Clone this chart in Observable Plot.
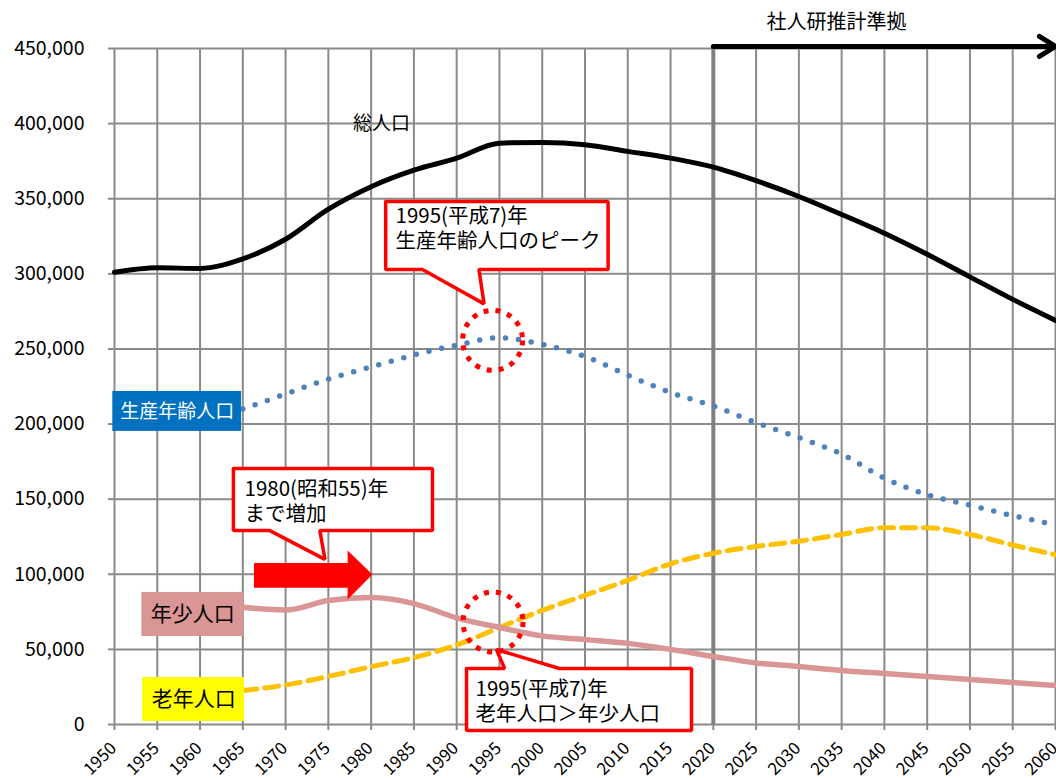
<!DOCTYPE html>
<html><head><meta charset="utf-8">
<script src="https://cdn.jsdelivr.net/npm/d3@7"></script>
<script src="https://cdn.jsdelivr.net/npm/@observablehq/plot@0.6"></script>
<style>body{margin:0;background:#fff}</style>
</head><body><div id="chart"></div>
<script>
// ---- data ----
const years = [1950,1955,1960,1965,1970,1975,1980,1985,1990,1995,2000,2005,2010,2015,2020,2025,2030,2035,2040,2045,2050,2055,2060];
const total = [301000,304000,303600,310000,323000,343000,358000,369000,377000,387000,387500,386000,381500,377000,371000,362000,351500,339500,327000,313000,298000,283000,269000];
const subYears = [1965,1970,1975,1980,1985,1990,1995,2000,2005,2010,2015,2020,2025,2030,2035,2040,2045,2050,2055,2060];
const working = [210000,220000,230000,238000,246000,252500,257500,253000,245000,232500,221000,212000,201000,191000,180000,164000,153000,146000,139000,133000];
const elderly = [22600,26300,32000,38500,44500,53000,64500,76000,86000,96000,107000,114000,118500,122000,126500,131000,131000,126500,119500,113000];
const young = [78000,76200,82500,84500,80500,71000,64600,59000,56500,54000,50000,45300,41000,38600,36000,34000,32000,30000,28000,26000];
const yTicks = [0,50000,100000,150000,200000,250000,300000,350000,400000,450000];
const xTicks = years;
const projStart = 2020;

// ---- annotations (data units) ----
const legendBoxes = [
  {label:"生産年齢人口", x1:1949.8, x2:1964.85, y1:195100, y2:221700, fill:"#0070C0", color:"white", size:19},
  {label:"年少人口", x1:1953.2, x2:1965.1, y1:58600, y2:87900, fill:"#D99694", color:"black", size:21},
  {label:"老年人口", x1:1953.3, x2:1965.2, y1:2000, y2:31300, fill:"#FFFF00", color:"black", size:21}
];
const callouts = [
  {id:"a", text:"1995(平成7)年\n生産年齢人口のピーク", tx:1982.85, ty:345500,
   pts:[[1981.7,348200],[2007.7,348200],[2007.7,302900],[1992.6,302900],[1993.2,280000],[1986.0,302900],[1981.7,302900],[1981.7,348200]]},
  {id:"b", text:"1980(昭和55)年\nまで増加", tx:1965.2, ty:163800,
   pts:[[1963.9,170400],[1987.17,170400],[1987.17,129200],[1974.0,129200],[1974.6,109900],[1968.1,129200],[1963.9,129200],[1963.9,170400]]},
  {id:"c", text:"1995(平成7)年\n老年人口＞年少人口", tx:1992.2, ty:30600,
   pts:[[1991.15,37300],[1995.6,37300],[1994.65,49900],[2002.0,37300],[2017.45,37300],[2017.45,-4000],[1991.15,-4000],[1991.15,37300]]}
];
const circles = [{x:1994.2, y:255700}, {x:1994.25, y:68200}];
const bigArrow = [[1966.3,107500],[1977.25,107500],[1977.25,115800],[1980.15,99900],[1977.25,83200],[1977.25,91000],[1966.3,91000],[1966.3,107500]];
const seriesLabels = [{text:"総人口", x:1981.2, y:399800}];
const projLabel = {text:"社人研推計準拠", x:2034.4, y:467000, arrowY:451400};

const rows = (xs, vs) => xs.map((x,i)=>({year:x, value:vs[i]}));
const font = "'Noto Sans CJK JP','Noto Sans',sans-serif";
const calloutPts = callouts.flatMap(c => c.pts.map(p => ({id:c.id, x:p[0], y:p[1]})));
const arrowPts = bigArrow.map(p => ({x:p[0], y:p[1]}));

const chart = Plot.plot({
  width: 1056, height: 778,
  marginLeft: 114, marginRight: 1, marginTop: 48, marginBottom: 54,
  style: {fontFamily: font, background: "white", overflow: "visible", color: "black"},
  x: {domain: [1950, 2060]},
  y: {domain: [0, 450000]},
  marks: [
    Plot.ruleX(xTicks, {stroke: "#8a8a8a", strokeWidth: 2}),
    Plot.ruleY(yTicks, {stroke: "#8a8a8a", strokeWidth: 2}),
    Plot.axisY({ticks: yTicks, tickSize: 6, tickPadding: 24, stroke: "#8a8a8a", strokeWidth: 2,
      fontSize: 19.5, tickFormat: d => d3.format(",")(d), fill: "black"}),
    Plot.axisX({ticks: xTicks, tickSize: 6, stroke: "#8a8a8a", strokeWidth: 2, tickFormat: () => ""}),
    Plot.text(xTicks, {x: d => d, y: () => 0, text: d => String(d), rotate: -45, textAnchor: "end",
      lineAnchor: "middle", dx: -1, dy: 21, fontSize: 17, fill: "black"}),
    Plot.ruleX([projStart], {y1: 0, y2: projLabel.arrowY, stroke: "#808080", strokeWidth: 4}),
    Plot.line(rows(years, total), {x: "year", y: "value", stroke: "black", strokeWidth: 5, curve: "monotone-x"}),
    Plot.line(rows(subYears, working), {x: "year", y: "value", stroke: "#4F81BD", strokeWidth: 5.5,
      strokeDasharray: "0 13", strokeLinecap: "round", curve: "monotone-x"}),
    Plot.line(rows(subYears, elderly), {x: "year", y: "value", stroke: "#FFC000", strokeWidth: 5,
      strokeDasharray: "14 8", curve: "monotone-x"}),
    Plot.line(rows(subYears, young), {x: "year", y: "value", stroke: "#D99694", strokeWidth: 5.5, curve: "monotone-x"}),
    Plot.rect(legendBoxes, {x1: "x1", x2: "x2", y1: "y1", y2: "y2", fill: "fill"}),
    ...legendBoxes.map(b => Plot.text([b], {x: d => (d.x1 + d.x2) / 2, y: d => (d.y1 + d.y2) / 2, text: "label",
      fill: b.color, fontSize: b.size})),
    Plot.text(seriesLabels, {x: "x", y: "y", text: "text", fontSize: 19, fill: "black"}),
    Plot.arrow([projLabel], {x1: projStart, x2: 2060, y1: "arrowY", y2: "arrowY", stroke: "black",
      strokeWidth: 5, headLength: 5.7, headAngle: 64}),
    Plot.text([projLabel], {x: "x", y: "y", text: "text", fontSize: 20, fill: "black"}),
    Plot.line(arrowPts, {x: "x", y: "y", fill: "#FF0000", stroke: "none"}),
    Plot.line(calloutPts, {x: "x", y: "y", z: "id", fill: "white", stroke: "#FF0000", strokeWidth: 3.5, strokeLinejoin: "miter"}),
    Plot.text(callouts, {x: "tx", y: "ty", text: "text", textAnchor: "start", lineAnchor: "top",
      fontSize: 20.5, lineHeight: 1.21, fill: "black"}),
    Plot.dot(circles, {x: "x", y: "y", r: 30, fill: "none", stroke: "#FF0000", strokeWidth: 5, strokeDasharray: "5 7"})
  ]
});
document.getElementById("chart").appendChild(chart);
</script>
</body></html>
